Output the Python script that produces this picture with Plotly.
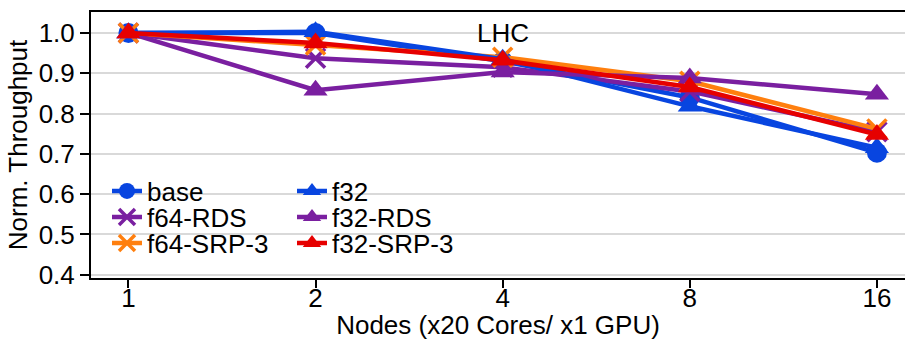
import plotly.graph_objects as go

nodes = ["1", "2", "4", "8", "16"]
base = [1.0, 1.0, 0.93, 0.84, 0.703]
f64_rds = [1.0, 0.937, 0.915, 0.855, 0.755]
f64_srp3 = [1.0, 0.97, 0.94, 0.88, 0.762]
f32 = [1.0, 1.003, 0.935, 0.818, 0.715]
f32_rds = [1.0, 0.858, 0.903, 0.888, 0.848]
f32_srp3 = [1.0, 0.975, 0.932, 0.866, 0.748]

BLUE = "#0845e0"
PURPLE = "#7a1fa0"
ORANGE = "#ff7f0e"
RED = "#e60000"
FONT = "Liberation Sans"
FS = 26

series = [
    ("base", base, BLUE, "circle", 20, "legend"),
    ("f64-RDS", f64_rds, PURPLE, "x-thin", 19, "legend2"),
    ("f64-SRP-3", f64_srp3, ORANGE, "x-thin", 19, "legend3"),
    ("f32", f32, BLUE, "triangle-up", 21, "legend4"),
    ("f32-RDS", f32_rds, PURPLE, "triangle-up", 21, "legend5"),
    ("f32-SRP-3", f32_srp3, RED, "triangle-up", 21, "legend6"),
]

fig = go.Figure()
for name, vals, col, sym, sz, lg in series:
    marker = dict(symbol=sym, size=sz, color=col)
    if sym == "x-thin":
        marker["line"] = dict(width=3.5, color=col)
    fig.add_trace(go.Scatter(
        x=nodes, y=vals, name=name, mode="lines+markers",
        line=dict(color=col, width=4.5), marker=marker, legend=lg,
    ))

plot_l, plot_t, plot_r, plot_b = 91, 12, 905, 278
W, H = 905, 340
pw, ph = plot_r - plot_l, plot_b - plot_t

def lx(px):
    return (px - plot_l) / pw

def ly(py):
    return (plot_b - py) / ph

leg_common = dict(bgcolor="rgba(0,0,0,0)", font=dict(family=FONT, size=FS, color="black"),
                  xanchor="left", yanchor="middle", itemwidth=30, borderwidth=0)
rows = [191, 217, 243]
layout_legends = {}
names = ["legend", "legend2", "legend3", "legend4", "legend5", "legend6"]
for i, lg in enumerate(names):
    col = i // 3
    row = i % 3
    xpx = 107 if col == 0 else 292
    layout_legends[lg] = dict(leg_common, x=lx(xpx), y=ly(rows[row]))

fig.update_layout(
    width=W, height=H,
    margin=dict(l=plot_l, r=W - plot_r, t=plot_t, b=H - plot_b),
    paper_bgcolor="white", plot_bgcolor="white",
    font=dict(family=FONT, size=FS, color="black"),
    showlegend=True,
    **layout_legends,
)
fig.update_xaxes(
    type="category", range=[-0.2, 4.15], automargin=False,
    showline=True, linecolor="black", linewidth=2, mirror=True,
    ticks="outside", ticklen=8, tickwidth=2, tickcolor="black",
    ticklabelstandoff=-12,
    showgrid=False, zeroline=False,
    title=dict(text="Nodes (x20 Cores/ x1 GPU)", font=dict(size=FS), standoff=16),
    tickfont=dict(size=FS),
)
fig.update_yaxes(
    range=[0.392, 1.052], tickvals=[0.4, 0.5, 0.6, 0.7, 0.8, 0.9, 1.0],
    ticktext=["0.4", "0.5", "0.6", "0.7", "0.8", "0.9", "1.0"], automargin=False,
    showline=True, linecolor="black", linewidth=2,
    ticks="outside", ticklen=9, tickwidth=2, tickcolor="black",
    showgrid=True, gridcolor="#d9d9d9", gridwidth=2, zeroline=False,
    title=dict(text="Norm. Throughput", font=dict(size=FS), standoff=4),
    tickfont=dict(size=FS),
)
fig.add_annotation(x=2, y=1.0, text="LHC", showarrow=False,
                   font=dict(family=FONT, size=FS, color="black"),
                   xanchor="center", yanchor="middle")

fig.write_html("out.html")
